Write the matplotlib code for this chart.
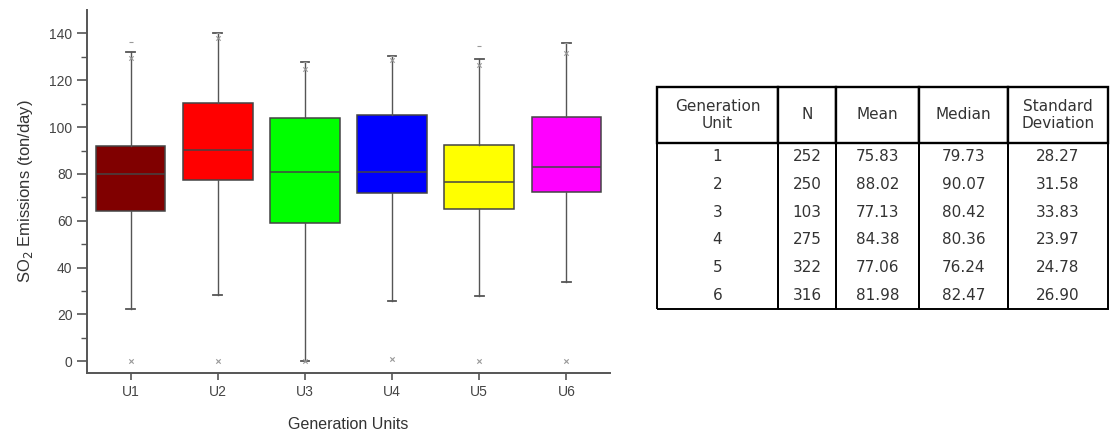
import matplotlib

matplotlib.use("Agg")
import matplotlib.pyplot as plt

plt.rcParams["font.family"] = ["Liberation Sans", "DejaVu Sans"]

units = ["U1", "U2", "U3", "U4", "U5", "U6"]
colors = ["#800000", "#ff0000", "#00ff00", "#0000ff", "#ffff00", "#ff00ff"]
q1 = [64.2, 77.3, 59.2, 72.0, 65.1, 72.5]
med = [80.0, 90.3, 80.7, 80.7, 76.5, 82.8]
q3 = [91.8, 110.2, 104.0, 105.3, 92.2, 104.2]
whislo = [22.5, 28.5, 0.3, 25.8, 27.7, 33.8]
whishi = [132.2, 140.0, 127.6, 130.3, 128.9, 135.7]
p1 = [0.0, 0.0, 0.0, 1.0, 0.0, 0.0]        # 1st percentile (x)
p99 = [129.5, 138.0, 125.0, 128.5, 126.5, 131.8]  # 99th percentile (x)
vmax = [136.4, 140.0, 127.6, 130.3, 134.6, 135.7]  # maximum (-)

tbl_header = ["Generation\nUnit", "N", "Mean", "Median", "Standard\nDeviation"]
tbl_unit = ["1", "2", "3", "4", "5", "6"]
tbl_n = ["252", "250", "103", "275", "322", "316"]
tbl_mean = ["75.83", "88.02", "77.13", "84.38", "77.06", "81.98"]
tbl_median = ["79.73", "90.07", "80.42", "80.36", "76.24", "82.47"]
tbl_sd = ["28.27", "31.58", "33.83", "23.97", "24.78", "26.90"]

W, H = 1110, 434
fig = plt.figure(figsize=(W / 100, H / 100), dpi=100)
ax = fig.add_axes([87 / W, 1 - 373 / H, (610 - 87) / W, (373 - 10) / H])

grey = "#555555"
stats = [
    dict(q1=a, med=m, q3=b, whislo=lo, whishi=hi, fliers=[])
    for a, m, b, lo, hi in zip(q1, med, q3, whislo, whishi)
]
pos = list(range(1, len(units) + 1))
bp = ax.bxp(stats, positions=pos, widths=0.8, patch_artist=True, showfliers=False,
            boxprops=dict(edgecolor="#444444", linewidth=1.1),
            medianprops=dict(color="#444444", linewidth=1.1),
            whiskerprops=dict(color=grey, linewidth=1.0),
            capprops=dict(color=grey, linewidth=1.3),
            capwidths=0.1)
for patch, c in zip(bp["boxes"], colors):
    patch.set_facecolor(c)

ax.scatter(pos, p1, marker="x", s=10, color="#999999", linewidths=0.8, zorder=3)
ax.scatter(pos, p99, marker="x", s=10, color="#999999", linewidths=0.8, zorder=3)
ax.scatter(pos, vmax, marker="_", s=12, color="#999999", linewidths=0.8, zorder=3)

ax.set_xlim(0.5, 6.5)
ax.set_ylim(-5, 150)
ax.set_yticks(range(0, 141, 20))
ax.set_yticks(range(-0, 150, 10), minor=True)
ax.set_xticks(pos)
ax.set_xticklabels(units)
for s in ["top", "right"]:
    ax.spines[s].set_visible(False)
for s in ["left", "bottom"]:
    ax.spines[s].set_color(grey)
    ax.spines[s].set_linewidth(1.4)
ax.tick_params(axis="both", colors=grey, labelcolor="#444444", labelsize=10, width=1.2, length=7)
ax.tick_params(axis="x", length=5)
ax.tick_params(axis="y", which="minor", colors=grey, length=4, width=1.0)
ax.set_ylabel("SO$_2$ Emissions (ton/day)", fontsize=12, color="#333333", labelpad=10)
ax.set_xlabel("Generation Units", fontsize=11.5, color="#333333", labelpad=13)

# statistics table
tax = fig.add_axes([657 / W, 1 - 309 / H, (1108 - 657) / W, (309 - 87) / H])
tax.axis("off")
rows = [list(r) for r in zip(tbl_unit, tbl_n, tbl_mean, tbl_median, tbl_sd)]
col_w = [121, 58, 83, 89, 100]
table = tax.table(cellText=rows, colLabels=tbl_header, colWidths=[w / sum(col_w) for w in col_w],
                  cellLoc="center", bbox=[0, 0, 1, 1])
table.auto_set_font_size(False)
nrows = len(rows)
for (r, c), cell in table.get_celld().items():
    cell.get_text().set_fontsize(11)
    cell.get_text().set_color("#333333")
    cell.get_text().set_family(["DejaVu Sans"])
    cell.get_text().set_linespacing(1.1)
    cell.set_linewidth(1.4)
    if r == 0:
        cell.set_height(56)
        cell.visible_edges = "closed"
        cell.set_linewidth(1.7)
    else:
        cell.set_height(27.7)
        cell.visible_edges = "BLR" if r == nrows else "LR"

fig.savefig("out.png", dpi=100)
